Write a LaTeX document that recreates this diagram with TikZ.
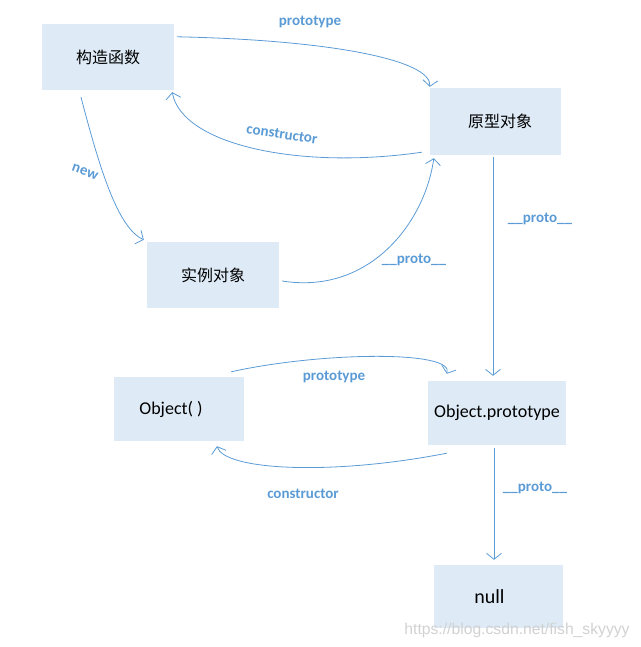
\documentclass[tikz,border=0pt]{standalone}
\usepackage{fontspec}
\setmainfont{Carlito}
\newfontfamily\cjk{Noto Sans CJK SC}
\newfontfamily\wmfont{Liberation Sans}
\usetikzlibrary{arrows.meta,calc}
\definecolor{lineblue}{HTML}{5B9BD5}
\definecolor{boxfill}{HTML}{DEEBF7}
\tikzset{
  box/.style={fill=boxfill, inner sep=0pt, text=black},
  cjkbox/.style={box, font=\cjk\fontsize{16}{18}\selectfont},
  latbox/.style={box, font=\fontsize{18}{20}\selectfont},
  conn/.style={draw=lineblue, line width=0.8pt, -{Straight Barb[length=6pt,width=15pt]}},
  lbl/.style={text=lineblue, font=\bfseries\fontsize{15}{17}\selectfont, inner sep=0pt},
}
\begin{document}
\begin{tikzpicture}[x=1pt,y=-1pt]
\useasboundingbox (0,0) rectangle (640,647);
\node[cjkbox, minimum width=132pt, minimum height=66pt] (ctor) at (108,57) {构造函数};
\node[cjkbox, minimum width=131pt, minimum height=67pt] (proto) at (495.5,121.5) {\hspace{9pt}原型对象};
\node[cjkbox, minimum width=132pt, minimum height=66pt] (inst) at (213,275) {实例对象};
\node[latbox, minimum width=130pt, minimum height=64pt] (obj) at (179,409) {\hspace{-16pt}Object( )};
\node[latbox, minimum width=138pt, minimum height=64pt] (objp) at (497,413) {Object.prototype};
\node[box, font=\fontsize{20}{22}\selectfont, minimum width=129pt, minimum height=63pt] (nul) at (498.5,596.5) {\hspace{-18pt}null};

% prototype (top)
\draw[conn] ($(ctor.north east)+(3,13)$) .. controls (330,40) and (432,60) .. ($(proto.north west)+(0,-1)$);
\node[lbl] (l1) at (310,22) {prototype};
% constructor (top)
\draw[conn] ($(proto.south west)+(-8,-3)$) .. controls (300,170) and (182,145) .. ($(ctor.south east)+(-2,2)$);
\node[lbl, rotate=-8.5] (l2) at (282,134) {constructor};
% new
\draw[conn] ($(ctor.south)+(-27,7)$) .. controls (100,170) and (118,228) .. ($(inst.north west)+(-3,-2)$);
\node[lbl, rotate=-20] (l3) at (85,172) {new};
% __proto__ (instance)
\draw[conn] ($(inst.east)+(3,6)$) .. controls (370,295) and (425,222) .. ($(proto.south west)+(4,3)$);
\node[lbl] (l4) at (414,260) {\_\_proto\_\_};
% __proto__ vertical
\coordinate (v1) at ($(proto.south)+(-2.5,2)$);
\draw[conn, shorten >=5pt] (v1) -- (v1 |- objp.north);
\node[lbl] (l5) at (540,219) {\_\_proto\_\_};
% prototype (bottom)
\draw[conn] ($(obj.north east)+(-13,-5)$) .. controls (320,352) and (455,350) .. ($(objp.north west)+(19,-7)$);
\node[lbl] (l6) at (334,377) {prototype};
% constructor (bottom)
\draw[conn] ($(objp.south west)+(19,8)$) .. controls (330,476) and (224,470) .. ($(obj.south)+(38,5)$);
\node[lbl] (l7) at (303,494) {constructor};
% __proto__ lower
\coordinate (v2) at ($(objp.south)+(-3,3)$);
\draw[conn, shorten >=5pt] (v2) -- (v2 |- nul.north);
\node[lbl] (l8) at (535,488) {\_\_proto\_\_};
% watermark
\node[text=black!18, font=\wmfont\fontsize{15.7}{17}\selectfont, inner sep=0pt] (wm) at (517,630) {https://blog.csdn.net/fish\_skyyyy};
\end{tikzpicture}
\end{document}
